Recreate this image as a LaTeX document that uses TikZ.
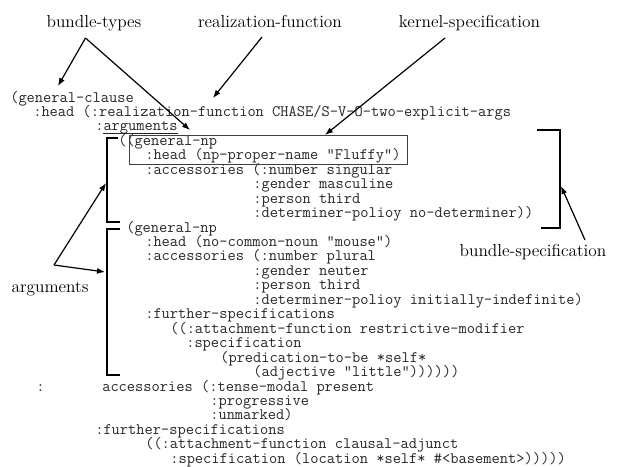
\documentclass[tikz,border=0pt]{standalone}
\usepackage{fontspec}
\usetikzlibrary{arrows.meta}
\begin{document}
\begin{tikzpicture}[x=0.75pt,y=-0.75pt,
  code/.style={anchor=base west, inner sep=0pt, text=black!85, font=\ttfamily\fontsize{12pt}{13pt}\selectfont},
  lbl/.style={anchor=base, inner sep=0pt, font=\fontsize{13pt}{15pt}\selectfont},
  arr/.style={-{Latex[length=6pt,width=4.5pt]}, line width=0.9pt},
  brk/.style={line width=1.8pt},
  uline/.style={draw=black!85, line width=0.6pt},
  kbox/.style={draw=black!75, line width=0.6pt, inner sep=0pt, anchor=north west}]
\useasboundingbox (0,0) rectangle (624,467);

% labels
\node[lbl] (lbt) at (94,28) {bundle-types};
\node[lbl] (lrf) at (270,28) {realization-function};
\node[lbl] (lks) at (469.5,28) {kernel-specification};
\node[lbl] (lbs) at (533,256) {bundle-specification};
\node[lbl] (lar) at (50,292) {arguments};

% code lines
\node[code] (c1)  at (10,102)     {(general-clause};
\node[code] (c2)  at (33,116.45) {:head (:realization-function CHASE/S-V-O-two-explicit-args};
\node[code] (c3)  at (95,130.9)  {:arguments};
\node[code] (c4)  at (118,145.35) {((general-np};
\node[code] (c5)  at (145,159.8) {:head (np-proper-name "Fluffy")};
\node[code] (c6)  at (145,174.25) {:accessories (:number singular};
\node[code] (c7)  at (253,188.7) {:gender masculine};
\node[code] (c8)  at (253,203.15) {:person third};
\node[code] (c9)  at (253,217.6) {:determiner-polioy no-determiner))};
\node[code] (c10) at (126,232.05) {(general-np};
\node[code] (c11) at (145,246.5) {:head (no-common-noun "mouse")};
\node[code] (c12) at (145,260.95) {:accessories (:number plural};
\node[code] (c13) at (253,275.4) {:gender neuter};
\node[code] (c14) at (253,289.85) {:person third};
\node[code] (c15) at (253,304.3) {:determiner-polioy initially-indefinite)};
\node[code] (c16) at (145,318.75) {:further-specifications};
\node[code] (c17) at (170,333.2) {((:attachment-function restrictive-modifier};
\node[code] (c18) at (186,347.65) {:specification};
\node[code] (c19) at (220,362.1) {(predication-to-be *self*};
\node[code] (c20) at (253,376.55) {(adjective "little"))))))};
\node[code] (c21a) at (36,391) {:};
\node[code] (c21) at (102,391) {accessories (:tense-modal present};
\node[code] (c22) at (210,405.45) {:progressive};
\node[code] (c23) at (210,419.9) {:unmarked)};
\node[code] (c24) at (95,434.35) {:further-specifications};
\node[code] (c25) at (145,448.8) {((:attachment-function clausal-adjunct};
\node[code] (c26) at (170,463.25) {:specification (location *self* \#<basement>)))))};

% underline under "arguments"
\coordinate (ul1) at (103,133.5);
\coordinate (ul2) at (178,133.5);
\draw[uline] (ul1) -- (ul2);

% kernel box
\node[kbox, minimum width=208.5pt, minimum height=21.75pt] (kbox) at (129,135) {};

% brackets
\draw[brk] (118,138) -- (107,138) -- (107,222) -- (120,222);
\draw[brk] (120,229) -- (107,229) -- (107,375) -- (120,375);
\draw[brk] (537,130) -- (560,130) -- (560,228) -- (541,228);

% arrow coordinates
\coordinate (bta) at (85.5,38);
\coordinate (btt1) at (58,86);
\coordinate (btt2) at (190,130);
\coordinate (rfa) at (262,37);
\coordinate (rft) at (213,98);
\coordinate (ksa) at (445,38);
\coordinate (kst) at (325,135);
\coordinate (bsa) at (585,240);
\coordinate (bst) at (561,186);
\coordinate (ara) at (54,265);
\coordinate (art1) at (106,183);
\coordinate (art2) at (105,272);

\draw[arr] (bta) -- (btt1);
\draw[arr] (bta) -- (btt2);
\draw[arr] (rfa) -- (rft);
\draw[arr] (ksa) -- (kst);
\draw[arr] (bsa) -- (bst);
\draw[arr] (ara) -- (art1);
\draw[arr] (ara) -- (art2);
\end{tikzpicture}
\end{document}
